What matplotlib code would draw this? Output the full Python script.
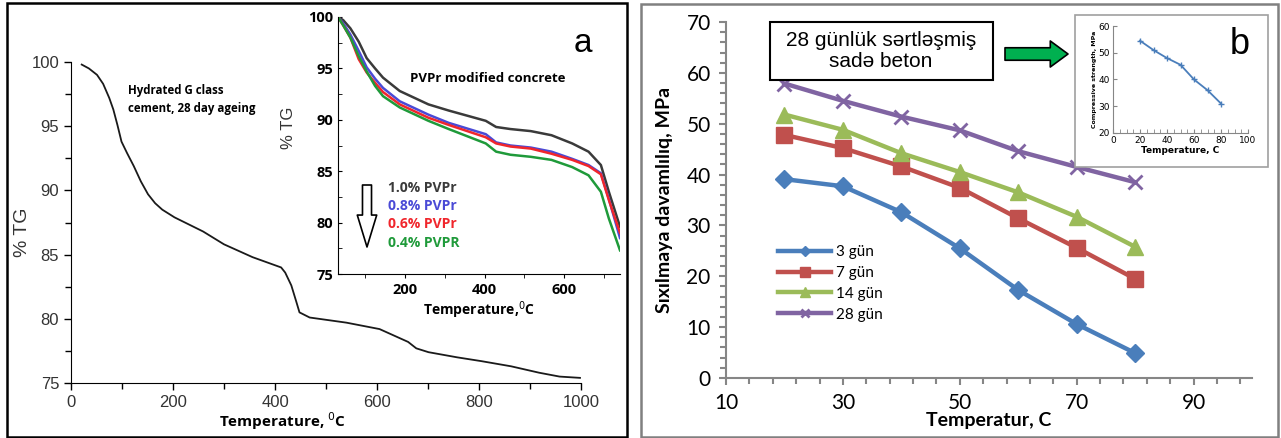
import numpy as np
import matplotlib
matplotlib.use("Agg")
import matplotlib.pyplot as plt
from matplotlib.patches import Rectangle
from matplotlib.ticker import MultipleLocator, FixedLocator

# ---- panel a: TG curve of hydrated G class cement
tg_temp = [21, 35, 51, 63, 75, 83, 91, 99, 110, 123, 137, 151, 165, 179, 203, 259, 300, 356, 412, 420, 432,
           442, 448, 468, 540, 605, 661, 677, 701, 757, 805, 863, 918, 958, 998]
tg_val = [99.8, 99.5, 99.0, 98.3, 97.2, 96.3, 95.1, 93.8, 92.9, 91.9, 90.7, 89.7, 89.0, 88.5, 87.9, 86.8,
          85.8, 84.8, 84.0, 83.6, 82.6, 81.3, 80.5, 80.1, 79.7, 79.2, 78.2, 77.7, 77.4, 77.0, 76.7, 76.3,
          75.8, 75.5, 75.4]

# inset of panel a: PVPr modified concrete
pvp_temp = [32, 45, 63, 84, 104, 125, 145, 187, 259, 310, 403, 429, 465, 516, 568, 620, 661, 692, 712, 740]
pvp_10 = [100, 99.7, 98.9, 97.6, 96.0, 95.0, 94.1, 92.8, 91.5, 90.9, 89.9, 89.3, 89.1, 88.9, 88.5, 87.7,
          86.9, 85.6, 83.0, 79.6]
pvp_08 = [100, 99.4, 98.3, 96.7, 95.1, 94.0, 93.1, 91.8, 90.5, 89.7, 88.6, 87.8, 87.5, 87.3, 86.9, 86.2,
          85.6, 84.8, 82.3, 78.5]
pvp_06 = [100, 99.2, 98.0, 95.9, 94.6, 93.6, 92.7, 91.5, 90.2, 89.5, 88.3, 87.7, 87.4, 87.2, 86.7, 86.1,
          85.5, 84.7, 82.2, 79.0]
pvp_04 = [100, 99.2, 98.0, 96.2, 94.7, 93.3, 92.3, 91.2, 89.9, 89.1, 87.7, 86.9, 86.6, 86.4, 86.1, 85.4,
          84.6, 83.0, 80.4, 77.3]
pvp_labels = ["1.0% PVPr", "0.8% PVPr", "0.6% PVPr", "0.4% PVPR"]
pvp_colors = ["#3a3a3a", "#4a4ad6", "#f0262c", "#1f9a3a"]

# ---- panel b: compressive strength vs temperature
temps = [20, 30, 40, 50, 60, 70, 80]
s3 = [39.1, 37.7, 32.6, 25.5, 17.3, 10.6, 4.9]
s7 = [47.8, 45.2, 41.6, 37.4, 31.4, 25.6, 19.5]
s14 = [51.8, 48.8, 44.2, 40.5, 36.5, 31.7, 25.8]
s28 = [57.9, 54.5, 51.4, 48.7, 44.6, 41.5, 38.5]
day_labels = ["3 gün", "7 gün", "14 gün", "28 gün"]

# inset of panel b: plain concrete, 28 days
b_temp = [20, 30, 40, 50, 60, 70, 80]
b_val = [54.5, 51.0, 48.0, 45.5, 40.0, 36.0, 31.0]

W, H = 1281, 438


def box(x0, y0, x1, y1):
    # pixel box (top-left origin) -> figure fraction rect
    return [x0 / W, 1 - y1 / H, (x1 - x0) / W, (y1 - y0) / H]


fig = plt.figure(figsize=(W / 100, H / 100), dpi=100)

# ================= panel a =================
ax1 = fig.add_axes(box(71, 62, 581, 383))
ax1.plot(tg_temp, tg_val, color="#1a1a1a", lw=1.3)
ax1.set_xlim(0, 1000)
ax1.set_ylim(75, 100)
for s in ["top", "right"]:
    ax1.spines[s].set_visible(False)
ax1.xaxis.set_major_locator(MultipleLocator(200))
ax1.xaxis.set_minor_locator(MultipleLocator(100))
ax1.yaxis.set_major_locator(MultipleLocator(5))
ax1.yaxis.set_minor_locator(MultipleLocator(2.5))
ax1.tick_params(which="both", direction="out", labelsize=12, labelcolor="#333333",
                width=1)
ax1.tick_params(which="major", length=5)
ax1.tick_params(which="minor", length=4)
for lab in ax1.get_xticklabels() + ax1.get_yticklabels():
    lab.set_family("Liberation Sans")
ax1.set_ylabel("% TG", fontsize=14, family="Liberation Sans", color="#333333")
ax1.yaxis.set_label_coords(-0.078, 0.47)
ax1.set_xlabel("Temperature, $^{0}$C", fontsize=11, fontweight="bold", family="Open Sans")
ax1.xaxis.set_label_coords(0.415, -0.085)
ax1.text(0.112, 0.93, "Hydrated G class\ncement, 28 day ageing", transform=ax1.transAxes,
         fontsize=8.3, fontweight="bold", family="Open Sans", va="top", linespacing=1.45)

# inset a
ax2 = fig.add_axes(box(338, 17, 620, 274))
ax2.set_facecolor("white")
for vals, c in zip([pvp_10, pvp_08, pvp_06, pvp_04], pvp_colors):
    ax2.plot(pvp_temp, vals, color=c, lw=1.8)
ax2.set_xlim(32, 740)
ax2.set_ylim(75, 100)
for s in ["top", "right"]:
    ax2.spines[s].set_visible(False)
ax2.xaxis.set_major_locator(FixedLocator([200, 400, 600]))
ax2.xaxis.set_minor_locator(MultipleLocator(100))
ax2.yaxis.set_major_locator(MultipleLocator(5))
ax2.yaxis.set_minor_locator(MultipleLocator(2.5))
ax2.tick_params(axis="x", which="both", direction="out", length=3)
ax2.tick_params(axis="y", which="both", direction="in", length=3)
ax2.tick_params(which="both", labelsize=10.5)
for lab in ax2.get_xticklabels() + ax2.get_yticklabels():
    lab.set_fontweight("bold")
    lab.set_family("Open Sans")
ax2.set_ylabel("% TG", fontsize=12, family="Liberation Sans", color="#333333")
ax2.yaxis.set_label_coords(-0.15, 0.57)
ax2.set_xlabel("Temperature,$^{0}$C", fontsize=10, fontweight="bold", family="Open Sans")
ax2.xaxis.set_label_coords(0.5, -0.1)
ax2.text(0.255, 0.76, "PVPr modified concrete", transform=ax2.transAxes, fontsize=9.5,
         fontweight="bold", family="Open Sans", va="center")
for i, (lab, c) in enumerate(zip(pvp_labels, pvp_colors)):
    ax2.text(0.178, 0.335 - i * 0.071, lab, transform=ax2.transAxes, color=c,
             fontsize=10, fontweight="bold", family="Open Sans", va="center")
ax2.annotate("", xy=(367, H - 247), xytext=(367, H - 185), xycoords="figure pixels",
             textcoords="figure pixels", annotation_clip=False,
             arrowprops=dict(arrowstyle="simple,head_width=1.4,head_length=2.3,tail_width=0.65",
                             mutation_scale=10, fc="white", ec="black", lw=1.2,
                             shrinkA=0, shrinkB=0))
fig.text(583 / W, 1 - 43 / H, "a", fontsize=24, ha="center", va="center", family="Liberation Sans")

# ================= panel b =================
ax3 = fig.add_axes(box(726, 22, 1252, 378))
styles = [("#4a7ebb", "D", 9), ("#c0504d", "s", 11), ("#9bbb59", "^", 11), ("#8064a2", "x", 10)]
for vals, lab, (c, m, ms) in zip([s3, s7, s14, s28], day_labels, styles):
    ax3.plot(temps, vals, color=c, lw=3.2, marker=m, ms=ms, mew=2 if m == "x" else 1,
             mec=c, mfc=c, label=lab)
ax3.set_xlim(10, 100)
ax3.set_ylim(0, 70)
for s in ["top", "right"]:
    ax3.spines[s].set_visible(False)
for s in ["left", "bottom"]:
    ax3.spines[s].set_color("#868686")
    ax3.spines[s].set_linewidth(1.5)
ax3.xaxis.set_major_locator(FixedLocator([10, 30, 50, 70, 90]))
ax3.xaxis.set_minor_locator(FixedLocator(np.arange(10, 101, 4)))
ax3.yaxis.set_major_locator(MultipleLocator(10))
ax3.yaxis.set_minor_locator(MultipleLocator(2))
ax3.tick_params(which="both", direction="out", color="#868686", width=1.5)
ax3.tick_params(which="major", length=5, labelsize=15, pad=6)
ax3.tick_params(which="minor", length=4)
for lab in ax3.get_xticklabels() + ax3.get_yticklabels():
    lab.set_family("Lato")
ax3.set_ylabel("Sıxılmaya davamlılıq, MPa", fontsize=14, fontweight="bold", family="Lato")
ax3.yaxis.set_label_coords(-0.1, 0.5)
ax3.set_xlabel("Temperatur, C", fontsize=14, fontweight="bold", family="Lato")
ax3.xaxis.set_label_coords(0.5, -0.095)
ax3.legend(loc="upper left", bbox_to_anchor=((778 - 726) / 526, (378 - 245) / 356),
           frameon=False, borderpad=0, borderaxespad=0, handlelength=3.5,
           handletextpad=0.3, labelspacing=0.45, markerscale=0.6,
           prop={"family": "Lato", "size": 11})

# text box and green arrow
tb = box(770, 22, 993, 80)
fig.patches.append(Rectangle((tb[0], tb[1]), tb[2], tb[3], transform=fig.transFigure,
                             fc="white", ec="black", lw=1.5, zorder=3))
fig.text(881 / W, 1 - 51 / H, "28 günlük sərtləşmiş\nsadə beton", fontsize=15,
         family=["Liberation Sans", "DejaVu Sans"], ha="center", va="center",
         linespacing=1.1, zorder=4)
ax3.annotate("", xy=(1068, H - 54), xytext=(1005, H - 54), xycoords="figure pixels",
             textcoords="figure pixels", annotation_clip=False,
             arrowprops=dict(arrowstyle="simple,head_width=1.25,head_length=0.85,tail_width=0.6",
                             mutation_scale=15, fc="#00b050", ec="black", lw=1.2,
                             shrinkA=0, shrinkB=0))

# inset b
bb = box(1075, 15, 1268, 167)
fig.patches.append(Rectangle((bb[0], bb[1]), bb[2], bb[3], transform=fig.transFigure,
                             fc="white", ec="#a0a0a0", lw=1.2, zorder=3))
ax4 = fig.add_axes(box(1113, 26, 1248, 133))
ax4.set_zorder(4)
ax4.patch.set_alpha(0)
ax4.plot(b_temp, b_val, color="#4a7ebb", lw=1.3, marker="+", ms=4, mew=1)
ax4.set_xlim(0, 100)
ax4.set_ylim(20, 60)
for s in ["top", "right"]:
    ax4.spines[s].set_visible(False)
for s in ["left", "bottom"]:
    ax4.spines[s].set_color("#868686")
ax4.xaxis.set_major_locator(MultipleLocator(20))
ax4.xaxis.set_minor_locator(MultipleLocator(5))
ax4.yaxis.set_major_locator(MultipleLocator(10))
ax4.tick_params(which="both", direction="in", color="#868686", labelsize=6.5, pad=2)
ax4.tick_params(which="major", length=3)
ax4.tick_params(which="minor", length=3)
ax4.set_ylabel("Compressive strength, MPa", fontsize=4.5, fontweight="bold", labelpad=1)
ax4.set_xlabel("Temperature, C", fontsize=6.5, fontweight="bold", labelpad=1)
fig.text(1240 / W, 1 - 44 / H, "b", fontsize=26, ha="center", va="center",
         family="Liberation Sans", zorder=5)

# panel frames
la = box(7, 3, 627, 437)
fig.patches.append(Rectangle((la[0], la[1]), la[2], la[3], transform=fig.transFigure,
                             fill=False, ec="black", lw=1.8, zorder=10))
rb = box(641, 4, 1278, 437)
fig.patches.append(Rectangle((rb[0], rb[1]), rb[2], rb[3], transform=fig.transFigure,
                             fill=False, ec="#808080", lw=1.8, zorder=10))

fig.savefig("out.png", dpi=100)
